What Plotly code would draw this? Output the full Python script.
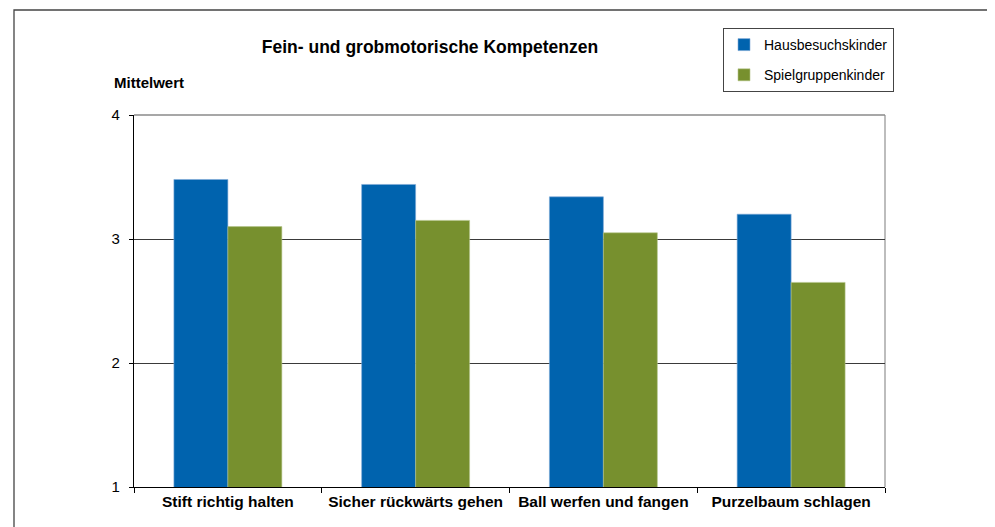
import plotly.graph_objects as go

categories = ["Stift richtig halten", "Sicher rückwärts gehen", "Ball werfen und fangen", "Purzelbaum schlagen"]
hausbesuch = [3.48, 3.44, 3.34, 3.20]
spielgruppe = [3.10, 3.15, 3.05, 2.65]
y_ticks = [1, 2, 3, 4]

OFF = 8  # page body margin
W, H = 995 - OFF, 527 - OFF
L, R, T, B = 134 - OFF, 885 - OFF, 115 - OFF, 487 - OFF
pw, ph = R - L, B - T

def px(x):
    return (x - OFF - L) / pw

def py(y):
    return (B - (y - OFF)) / ph

font = "Liberation Sans, Arial, sans-serif"

fig = go.Figure()
fig.add_trace(go.Bar(x=categories, y=hausbesuch, name="Hausbesuchskinder",
                     marker=dict(color="#0063AE", line=dict(color="#7FA9D6", width=0.6)),
                     legendgroup="a"))
fig.add_trace(go.Bar(x=categories, y=spielgruppe, name="Spielgruppenkinder",
                     marker=dict(color="#77902E", line=dict(color="#B5C58A", width=0.6)),
                     legendgroup="b"))

fig.update_layout(
    width=W, height=H,
    margin=dict(l=L, r=W - R, t=T, b=H - B, pad=0),
    paper_bgcolor="white", plot_bgcolor="white",
    barmode="group", bargap=0.425, bargroupgap=0,
    font=dict(family=font, size=14, color="black"),
    title=dict(text="<b>Fein- und grobmotorische Kompetenzen</b>",
               x=(430 - OFF) / W, xanchor="center", y=1 - (47 - OFF) / H, yanchor="middle",
               font=dict(size=17.5, family=font, color="black")),
    legend=dict(x=px(723), y=py(28), xanchor="left", yanchor="top",
                bordercolor="#444444", borderwidth=1, bgcolor="white",
                font=dict(size=14, family=font, color="black"),
                tracegroupgap=9, itemwidth=30, traceorder="grouped"),
    xaxis=dict(showline=True, linecolor="black", linewidth=1.3,
               ticks="outside", tickson="boundaries", ticklen=5, tickcolor="black",
               tickfont=dict(size=15.5, family=font, color="black"),
               tickprefix="<b>", ticksuffix="</b>", showgrid=False, fixedrange=True),
    yaxis=dict(range=[1, 4], tickvals=y_ticks, showline=True, linecolor="black", linewidth=1.3,
               ticks="outside", ticklen=4, tickcolor="black", ticklabelstandoff=6,
               showgrid=True, gridcolor="#3a3a3a", gridwidth=1,
               tickfont=dict(size=15, family=font, color="black"), zeroline=False),
    annotations=[dict(text="<b>Mittelwert</b>", xref="paper", yref="paper",
                      x=px(112), y=py(82), xanchor="left", yanchor="middle",
                      showarrow=False, font=dict(size=15, family=font, color="black"))],
    shapes=[
        dict(type="rect", xref="paper", yref="paper", x0=px(14), x1=px(1010), y0=py(540), y1=py(10),
             line=dict(color="#444444", width=1.3), layer="below"),
        dict(type="line", xref="paper", yref="paper", x0=1, x1=1, y0=0, y1=1,
             line=dict(color="#9a9a9a", width=1.3), layer="below"),
        dict(type="line", xref="paper", yref="paper", x0=0, x1=1, y0=1, y1=1,
             line=dict(color="#8a8a8a", width=1.3), layer="below"),
    ],
)

fig.write_html("out.html")
